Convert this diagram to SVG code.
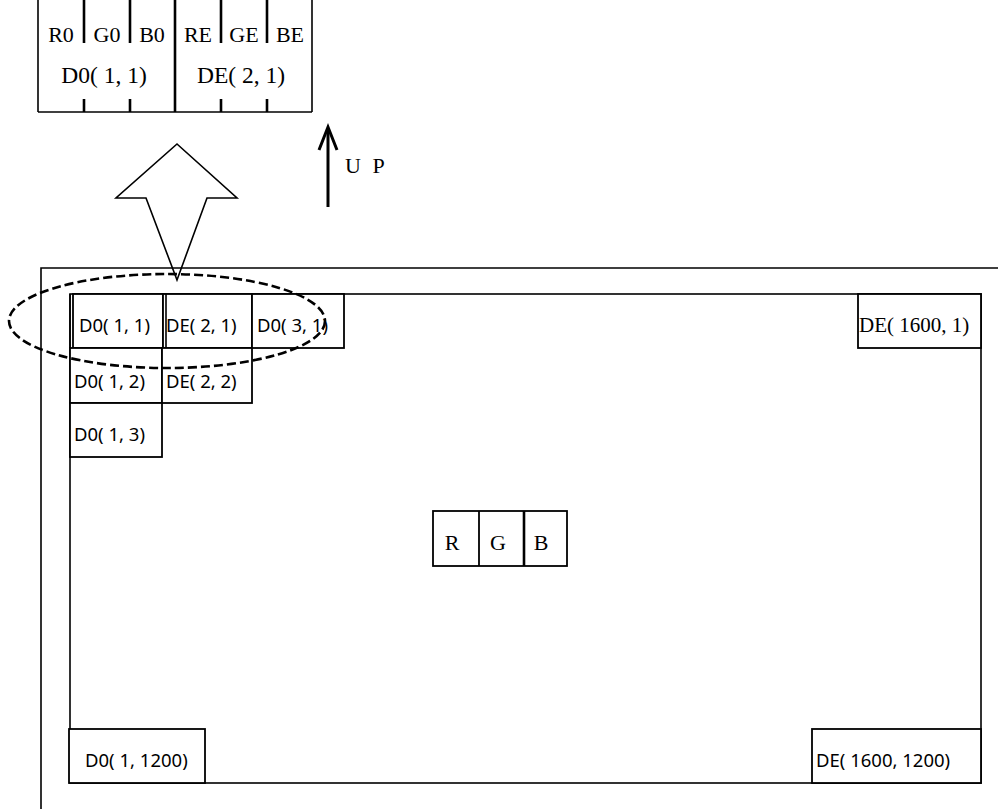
<svg xmlns="http://www.w3.org/2000/svg" width="1001" height="809" viewBox="0 0 1001 809">
<style>
.ln{stroke:#000;stroke-width:1.6;fill:none}
.thk{stroke:#000;stroke-width:2.6;fill:none}
.cell{stroke:#000;stroke-width:1.8;fill:#fff}
.serif{font-family:"Liberation Serif","Times New Roman",serif;font-size:22px;fill:#000}
.sans{font-family:"Noto Sans","DejaVu Sans",sans-serif;font-size:18.5px;fill:#000}
.mid{text-anchor:middle}
</style>
<rect x="0" y="0" width="1001" height="809" fill="#fff"/>
<g id="pixel-detail">
<line class="ln" x1="38" y1="0" x2="38" y2="112"/>
<line class="ln" x1="312" y1="0" x2="312" y2="112"/>
<line class="ln" x1="38" y1="112" x2="312" y2="112"/>
<line class="thk" x1="175" y1="0" x2="175" y2="112"/>
<line class="thk" x1="84" y1="0" x2="84" y2="43"/>
<line class="thk" x1="130" y1="0" x2="130" y2="43"/>
<line class="thk" x1="221" y1="0" x2="221" y2="43"/>
<line class="thk" x1="267" y1="0" x2="267" y2="43"/>
<line class="thk" x1="84" y1="99" x2="84" y2="112"/>
<line class="thk" x1="130" y1="99" x2="130" y2="112"/>
<line class="thk" x1="221" y1="99" x2="221" y2="112"/>
<line class="thk" x1="267" y1="99" x2="267" y2="112"/>
<text class="serif mid" x="61" y="42">R0</text>
<text class="serif mid" x="107" y="42">G0</text>
<text class="serif mid" x="152" y="42">B0</text>
<text class="serif mid" x="198" y="42">RE</text>
<text class="serif mid" x="244" y="42">GE</text>
<text class="serif mid" x="290" y="42">BE</text>
<text class="serif mid" x="104" y="83" style="font-size:23.5px">D0( 1, 1)</text>
<text class="serif mid" x="241" y="83" style="font-size:23.5px">DE( 2, 1)</text>
</g>
<g id="connectors">
<path class="ln" d="M177,144 L237,198 L207,198 L177,280 L146,198 L116,198 Z" style="fill:#fff"/>
<line x1="328" y1="207" x2="328" y2="129" stroke="#000" stroke-width="3"/>
<polyline points="319,150 328,127 337,150" fill="none" stroke="#000" stroke-width="3"/>
</g>
<g id="up-label"><text class="serif" x="345" y="173" style="letter-spacing:3px">U P</text></g>
<g id="screen">
<polyline class="ln" points="41,809 41,268 998,268"/>
<rect class="ln" x="70" y="294" width="911" height="489"/>
</g>
<g id="cell-d0-1-1"><rect class="cell" x="73" y="294" width="90" height="54"/><line class="ln" x1="70" y1="294" x2="70" y2="348"/><text class="sans" x="79" y="332">D0( 1, 1)</text></g>
<g id="cell-de-2-1"><rect class="cell" x="163" y="294" width="89" height="54"/><line class="ln" x1="166" y1="294" x2="166" y2="348"/><text class="sans" x="166" y="332">DE( 2, 1)</text></g>
<g id="cell-d0-3-1"><rect class="cell" x="252" y="294" width="92" height="54"/><text class="sans" x="257" y="332">D0( 3, 1)</text></g>
<g id="cell-d0-1-2"><rect class="cell" x="70" y="348" width="92" height="55"/><text class="sans" x="74" y="388">D0( 1, 2)</text></g>
<g id="cell-de-2-2"><rect class="cell" x="162" y="348" width="90" height="55"/><text class="sans" x="166" y="388">DE( 2, 2)</text></g>
<g id="cell-d0-1-3"><rect class="cell" x="70" y="403" width="92" height="54"/><text class="sans" x="74" y="441">D0( 1, 3)</text></g>
<g id="cell-de-1600-1"><rect class="cell" x="858" y="294" width="123" height="54"/><text class="serif" x="859" y="332" style="font-size:21px">DE( 1600, 1)</text></g>
<g id="cell-d0-1-1200"><rect class="cell" x="69" y="729" width="136" height="54"/><text class="sans" x="85" y="767">D0( 1, 1200)</text></g>
<g id="cell-de-1600-1200"><rect class="cell" x="812" y="729" width="169" height="54"/><text class="sans" x="816" y="767">DE( 1600, 1200)</text></g>
<g id="rgb">
<rect class="cell" x="433" y="511" width="134" height="55"/>
<line class="ln" x1="479" y1="511" x2="479" y2="566" style="stroke-width:1.8"/>
<line class="thk" x1="524" y1="511" x2="524" y2="566"/>
<text class="serif mid" x="452" y="550">R</text>
<text class="serif mid" x="498" y="550">G</text>
<text class="serif mid" x="541" y="550">B</text>
</g>
<g id="selection-ellipse"><ellipse cx="167" cy="321" rx="158" ry="47" fill="none" stroke="#000" stroke-width="2.6" stroke-dasharray="9,4"/></g>
</svg>
